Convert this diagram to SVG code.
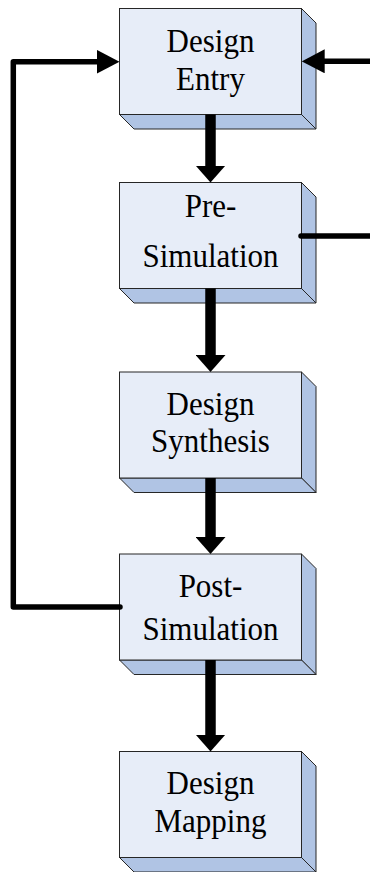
<svg xmlns="http://www.w3.org/2000/svg" width="370" height="872" viewBox="0 0 370 872">
<style>
.front{fill:#E7EDF8;stroke:#262626;stroke-width:1}
.side{fill:#B0C4E4;stroke:#262626;stroke-width:1;stroke-linejoin:miter}
.lbl{font-family:"Liberation Serif","Times New Roman",serif;font-size:31px;fill:#000;text-anchor:middle}
.thick{fill:none;stroke:#000;stroke-width:10.5}
.thin{fill:none;stroke:#000;stroke-width:5.5;stroke-linecap:round;stroke-linejoin:round}
</style>
<defs>
<marker id="bigHead" markerUnits="userSpaceOnUse" viewBox="0 0 17 30" markerWidth="17" markerHeight="30" refX="7" refY="15" orient="auto">
<path d="M0,0 L17,15 L0,30 Z" fill="#000"/>
</marker>
<marker id="smallHead" markerUnits="userSpaceOnUse" viewBox="0 0 23 24" markerWidth="23" markerHeight="24" refX="15" refY="12" orient="auto">
<path d="M0,0 L23,12 L0,24 Z" fill="#000"/>
</marker>
<g id="box">
<polygon class="side" points="182,0 196.5,14.5 196.5,120.5 182,106"/>
<polygon class="side" points="0,106 182,106 196.5,120.5 14.5,120.5"/>
<rect class="front" x="0" y="0" width="182" height="106"/>
</g>
</defs>

<g id="node-design-entry" transform="translate(119.5,8.5)">
<use href="#box"/>
<text class="lbl" transform="translate(91,43.5) scale(1,1.07)">Design</text>
<text class="lbl" transform="translate(91,81) scale(1,1.07)">Entry</text>
</g>

<g id="node-pre-simulation" transform="translate(119.5,182.5)">
<use href="#box"/>
<text class="lbl" transform="translate(91,34) scale(1,1.07)">Pre-</text>
<text class="lbl" transform="translate(91,84) scale(1,1.07)">Simulation</text>
</g>

<g id="node-design-synthesis" transform="translate(119.5,372)">
<use href="#box"/>
<text class="lbl" transform="translate(91,43) scale(1,1.07)">Design</text>
<text class="lbl" transform="translate(91,79.5) scale(1,1.07)">Synthesis</text>
</g>

<g id="node-post-simulation" transform="translate(119.5,554)">
<use href="#box"/>
<text class="lbl" transform="translate(91,42.5) scale(1,1.07)">Post-</text>
<text class="lbl" transform="translate(91,86) scale(1,1.07)">Simulation</text>
</g>

<g id="node-design-mapping" transform="translate(119.5,751.5)">
<use href="#box"/>
<text class="lbl" transform="translate(91,42) scale(1,1.07)">Design</text>
<text class="lbl" transform="translate(91,80) scale(1,1.07)">Mapping</text>
</g>

<g id="connectors">
<line class="thick" x1="210.5" y1="114.5" x2="210.5" y2="172.5" marker-end="url(#bigHead)"/>
<line class="thick" x1="210.5" y1="288.5" x2="210.5" y2="362" marker-end="url(#bigHead)"/>
<line class="thick" x1="210.5" y1="478" x2="210.5" y2="544" marker-end="url(#bigHead)"/>
<line class="thick" x1="210.5" y1="660" x2="210.5" y2="741.5" marker-end="url(#bigHead)"/>
<line class="thin" x1="375" y1="61.3" x2="309.7" y2="61.3" marker-end="url(#smallHead)"/>
<path class="thin" d="M120,607 L13.3,607 L13.3,61.7 L111.5,61.7" marker-end="url(#smallHead)"/>
<line class="thin" x1="301" y1="236" x2="375" y2="236"/>
</g>
</svg>
